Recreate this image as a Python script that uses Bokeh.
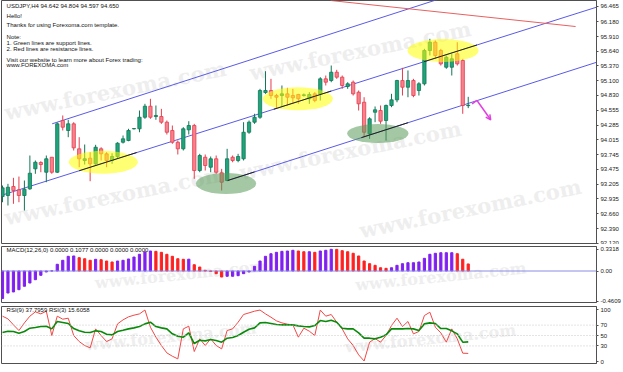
from bokeh.plotting import figure
from bokeh.layouts import column
from bokeh.models import (ColumnDataSource, FixedTicker, PrintfTickFormatter, Range1d,
                          Arrow, OpenHead, Span, Label, LabelSet)
from bokeh.embed import file_html
from bokeh.resources import INLINE
from bokeh.core.properties import value

# ---------------- data (USDJPY H4) ----------------
opens = [92.977, 92.995, 93.160, 93.099, 92.995, 93.118, 93.484, 93.600, 93.422, 93.697,
         93.422, 94.370, 94.187, 94.309, 93.851, 93.637, 93.679, 93.576, 93.851, 93.759,
         93.637, 93.710, 93.972, 94.003, 94.218, 94.218, 94.430, 94.632, 94.443, 94.443,
         94.339, 94.187, 93.972, 93.851, 94.199, 94.278, 93.453, 93.697, 93.514, 93.668,
         93.411, 93.270, 93.697, 93.637, 93.668, 94.155, 94.339, 94.430, 94.883, 94.920,
         94.828, 94.828, 94.859, 94.828, 94.847, 94.828, 94.768, 94.859, 94.859, 95.134,
         95.103, 95.255, 95.164, 94.993, 95.072, 94.889, 94.705, 94.126, 94.522, 94.553,
         94.370, 94.645, 94.749, 95.103, 94.980, 95.103, 94.920, 95.043, 95.653, 95.805,
         95.653, 95.347, 95.347, 95.593, 95.470, 94.642]
highs = [93.178, 93.209, 93.319, 93.343, 93.270, 93.728, 93.637, 93.624, 93.728, 93.697,
         94.333, 94.462, 94.383, 94.339, 94.064, 93.930, 93.789, 93.924, 93.880, 93.789,
         93.770, 93.972, 94.095, 94.218, 94.229, 94.553, 94.676, 94.768, 94.645, 94.584,
         94.370, 94.278, 94.003, 94.247, 94.357, 94.309, 93.759, 93.747, 93.710, 93.728,
         93.484, 93.851, 93.728, 93.759, 94.339, 94.370, 94.493, 94.951, 95.274, 95.134,
         94.859, 95.012, 94.969, 94.951, 94.859, 94.865, 94.889, 94.889, 95.164, 95.195,
         95.378, 95.299, 95.195, 95.072, 95.103, 94.920, 94.797, 94.430, 94.627, 94.645,
         94.663, 94.859, 95.116, 95.336, 95.287, 95.134, 95.072, 95.684, 95.868, 95.837,
         95.684, 95.562, 95.593, 95.805, 95.501, 94.804]
lows = [92.872, 92.812, 92.843, 92.872, 92.720, 93.099, 93.393, 93.422, 93.239, 93.393,
        93.407, 94.187, 94.064, 93.820, 93.514, 93.563, 93.257, 93.545, 93.637, 93.514,
        93.576, 93.668, 93.948, 93.990, 94.205, 94.155, 94.401, 94.401, 94.383, 94.309,
        94.113, 93.943, 93.747, 93.820, 94.113, 93.301, 93.422, 93.453, 93.422, 93.393,
        93.087, 93.257, 93.605, 93.605, 93.637, 94.126, 94.309, 94.401, 94.859, 94.768,
        94.584, 94.614, 94.645, 94.676, 94.676, 94.810, 94.676, 94.705, 94.737, 95.012,
        95.072, 95.134, 94.951, 94.951, 94.828, 94.553, 94.064, 94.034, 94.339, 94.309,
        94.003, 94.614, 94.705, 94.828, 94.797, 94.797, 94.828, 95.012, 95.562, 95.501,
        95.378, 95.318, 95.195, 95.378, 94.493, 94.597]
closes = [93.136, 93.147, 93.087, 92.995, 93.110, 93.404, 93.605, 93.563, 93.668, 93.422,
          94.309, 94.247, 94.309, 93.869, 93.668, 93.668, 93.576, 93.880, 93.759, 93.637,
          93.710, 93.954, 94.034, 94.187, 94.223, 94.430, 94.632, 94.430, 94.462, 94.339,
          94.155, 93.972, 93.851, 94.218, 94.278, 93.453, 93.728, 93.545, 93.668, 93.422,
          93.239, 93.668, 93.637, 93.710, 94.155, 94.339, 94.430, 94.920, 94.920, 94.828,
          94.797, 94.859, 94.797, 94.786, 94.768, 94.841, 94.847, 94.737, 95.134, 95.072,
          95.255, 95.164, 95.012, 95.043, 94.859, 94.676, 94.155, 94.401, 94.566, 94.357,
          94.645, 94.749, 95.103, 94.980, 95.103, 94.828, 95.043, 95.653, 95.805, 95.562,
          95.409, 95.530, 95.501, 95.409, 94.645, 94.650]

macd_hist = [-0.422, -0.337, -0.321, -0.286, -0.234, -0.184, -0.133, -0.066, -0.015, 0.002,
             0.103, 0.164, 0.225, 0.230, 0.204, 0.188, 0.164, 0.179, 0.173, 0.153,
             0.138, 0.153, 0.164, 0.184, 0.214, 0.256, 0.291, 0.306, 0.301, 0.286,
             0.256, 0.225, 0.188, 0.179, 0.181, 0.096, 0.061, 0.011, -0.005, -0.041,
             -0.092, -0.081, -0.081, -0.072, -0.041, -0.015, 0.072, 0.153, 0.225, 0.265,
             0.286, 0.301, 0.306, 0.317, 0.306, 0.295, 0.295, 0.286, 0.306, 0.317,
             0.332, 0.331, 0.311, 0.295, 0.271, 0.230, 0.153, 0.112, 0.087, 0.050,
             0.041, 0.050, 0.087, 0.112, 0.127, 0.127, 0.138, 0.194, 0.256, 0.271,
             0.280, 0.280, 0.280, 0.265, 0.180, 0.108]

rsi9 = [55.7, 58.3, 57.7, 54.5, 57.7, 64.1, 65.4, 67.3, 67.9, 62.8,
        76.9, 75.0, 73.1, 63.4, 59.0, 56.4, 55.7, 59.0, 57.7, 52.5,
        51.3, 57.7, 60.2, 62.8, 64.7, 67.3, 72.4, 75.6, 67.3, 64.7,
        62.8, 53.2, 48.7, 46.8, 55.1, 34.6, 41.0, 39.7, 42.3, 40.4,
        37.2, 44.9, 46.1, 50.0, 56.4, 62.2, 64.7, 74.3, 75.0, 73.1,
        71.1, 70.5, 70.5, 70.5, 68.6, 67.3, 66.6, 69.2, 78.8, 76.9,
        79.5, 75.6, 64.1, 62.8, 62.8, 55.1, 44.9, 44.9, 43.6, 46.8,
        51.3, 62.8, 62.8, 62.8, 63.4, 62.8, 59.6, 72.4, 74.3, 73.1,
        63.4, 63.4, 59.0, 53.2, 37.2, 37.8]
rsi3 = [87.2, 82.0, 70.5, 59.6, 74.3, 87.2, 95.5, 91.6, 96.8, 50.0,
        87.2, 81.4, 83.3, 50.0, 38.4, 30.8, 26.3, 62.8, 50.0, 38.4,
        43.6, 72.4, 80.1, 85.9, 89.1, 91.6, 99.0, 66.0, 46.8, 30.8,
        16.6, 10.2, 5.1, 62.8, 67.9, 19.2, 43.6, 30.8, 43.6, 30.8,
        24.3, 59.6, 62.8, 75.6, 90.4, 93.6, 96.8, 99.0, 91.6, 85.2,
        78.2, 74.3, 71.8, 70.5, 46.8, 64.1, 58.3, 50.0, 99.0, 87.2,
        90.4, 75.6, 62.8, 43.6, 30.8, 12.8, 1.0, 37.2, 44.2, 37.2,
        50.0, 69.2, 83.3, 67.3, 76.9, 53.2, 57.7, 88.4, 94.8, 66.0,
        55.1, 37.2, 62.8, 43.6, 16.0, 15.6]

price_ticks = [96.465, 96.180, 95.910, 95.640, 95.370, 95.100, 94.830, 94.555, 94.285,
               94.015, 93.745, 93.475, 93.205, 92.935, 92.660, 92.390, 92.120]
macd_ticks = [0.3318, 0.0, -0.4609]
rsi_ticks = [0, 30, 50, 70, 100]
date_pos = [0, 8, 16, 24, 32, 40, 48, 56, 64, 72, 80]
date_labels = ["14 Jul 2009", "15 Jul 08:00", "16 Jul 16:00", "19 Jul 23:00", "21 Jul 04:00",
               "22 Jul 12:00", "23 Jul 20:00", "27 Jul 00:00", "28 Jul 08:00", "29 Jul 16:00",
               "31 Jul 00:00"]

# channel / trend lines (bar index, price)
upper_line = ([9.07, 85.0], [94.31, 96.77])
middle_line = ([-0.3, 108.5], [92.995, 96.45])
lower_line = ([41.1, 108.5], [93.27, 95.44])
resist_line = ([59.9, 104.6], [96.57, 96.093])
black_segs = [([14.0, 24.5], [93.449, 93.783]), ([49.5, 60.0], [94.576, 94.910]),
              ([76.9, 86.6], [95.447, 95.755]), ([41.1, 46.0], [93.270, 93.428]),
              ([65.5, 74.0], [94.056, 94.330])]
yellow_ell = dict(x=[18.4, 53.9, 80.4], y=[93.605, 94.768, 95.653], w=[12.6, 12.8, 13.0], h=[0.42, 0.42, 0.42])
green_ell = dict(x=[40.8, 68.5], y=[93.215, 94.132], w=[11.0, 11.2], h=[0.385, 0.35])

WATERMARK = "www.forexoma.com"
wm_main = dict(x=[20.6, 65.3, 20.6, 63.5, 85.4], y=[94.92, 95.65, 92.995, 93.82, 92.757])
wm_macd = dict(x=[32.5, 80.0], y=[-0.053, -0.084])
wm_rsi = dict(x=[30.7, 78.1], y=[48.1, 44.3])

FNAME = "Liberation Sans"
FONT = value(FNAME)
n = len(opens)
idx = list(range(n))
up = [c >= o for o, c in zip(opens, closes)]

G_FILL, G_LINE = "#1ea57c", "#137556"
R_FILL, R_LINE = "#f5828c", "#e63c4c"

src = ColumnDataSource(dict(
    x=idx, high=highs, low=lows,
    top=[max(o, c) for o, c in zip(opens, closes)],
    bot=[min(o, c) for o, c in zip(opens, closes)],
    fill=[G_FILL if u else R_FILL for u in up],
    line=[G_LINE if u else R_LINE for u in up]))

XR = Range1d(-0.18, 108.41)


def make_fig(height, ymin, ymax, top, bottom):
    p = figure(width=623, height=height, x_range=XR, y_range=Range1d(ymin, ymax),
               output_backend="svg", toolbar_location=None, title=None,
               min_border_left=1, min_border_right=27, min_border_top=top,
               min_border_bottom=bottom, y_axis_location="right", x_axis_location=None)
    p.grid.visible = False
    p.outline_line_color = "#505050"
    p.outline_line_width = 1
    p.background_fill_color = "white"
    p.border_fill_color = "white"
    ax = p.yaxis[0]
    ax.major_label_text_font = FNAME
    ax.major_label_text_font_size = "6px"
    ax.major_label_text_color = "#202020"
    ax.major_tick_out = 2
    ax.major_tick_in = 0
    ax.minor_tick_out = 0
    ax.minor_tick_in = 0
    ax.major_label_standoff = 2
    ax.axis_line_color = "#505050"
    ax.major_tick_line_color = "#505050"
    return p


def add_watermarks(p, wm, size, angle):
    p.text(x=wm["x"], y=wm["y"], text=[WATERMARK] * len(wm["x"]), angle=angle,
           text_font=value("DejaVu Serif"), text_font_size=size, text_font_style="bold",
           text_color="#eeeeee", text_align="center", text_baseline="middle")


# ---------------- main price panel ----------------
p1 = make_fig(244, 92.097, 96.57, 0, 0)
p1.yaxis[0].ticker = FixedTicker(ticks=price_ticks)
p1.yaxis[0].formatter = PrintfTickFormatter(format="%.3f")
add_watermarks(p1, wm_main, "21px", 0.2)

p1.line(upper_line[0], upper_line[1], line_color="#5a5ae6", line_width=1)
p1.line(middle_line[0], middle_line[1], line_color="#5a5ae6", line_width=1)
p1.line(lower_line[0], lower_line[1], line_color="#5a5ae6", line_width=1)
p1.line(resist_line[0], resist_line[1], line_color="#e86060", line_width=1)

p1.segment(x0="x", y0="high", x1="x", y1="low", line_color="line", line_width=1, source=src)
p1.vbar(x="x", width=0.6, top="top", bottom="bot", fill_color="fill", line_color="line",
        line_width=0.8, source=src)

p1.ellipse(x=yellow_ell["x"], y=yellow_ell["y"], width=yellow_ell["w"], height=yellow_ell["h"],
           fill_color="#ffff00", fill_alpha=0.55, line_color=None)
p1.ellipse(x=green_ell["x"], y=green_ell["y"], width=green_ell["w"], height=green_ell["h"],
           fill_color="#5a9a5a", fill_alpha=0.55, line_color=None)
for xs, ys in black_segs:
    p1.line(xs, ys, line_color="#202020", line_width=1)

# magenta arrow
p1.line([85.7, 86.6], [94.676, 94.737], line_color="#e040e0", line_width=1.5)
p1.add_layout(Arrow(end=OpenHead(size=5, line_color="#e040e0", line_width=1.5),
                    x_start=86.6, y_start=94.737, x_end=89.1, y_end=94.383,
                    line_color="#e040e0", line_width=1.5))

info_lines = ["USDJPY,H4  94.642 94.804 94.597 94.650", "Hello!",
              "Thanks for using Forexoma.com template.", "Note:",
              "1. Green lines are support lines.", "2. Red lines are resistance lines.",
              "Visit our website to learn more about Forex trading:", "www.FOREXOMA.com"]
info_y = [96.478, 96.295, 96.112, 95.897, 95.787, 95.684, 95.488, 95.391]
p1.text(x=[0.75] * len(info_lines), y=info_y, text=info_lines, text_font=FONT,
        text_font_size="6px", text_color="#101010", text_baseline="middle", text_align="left")

p1.add_layout(Label(x=108.55, y=closes[-1], text="94.650", text_font=FNAME,
                    text_font_size="6px", text_color="white", background_fill_color="black",
                    text_baseline="middle", text_align="left"))

# ---------------- MACD panel ----------------
p2 = make_fig(60, -0.482, 0.375, 2, 2)
p2.yaxis[0].ticker = FixedTicker(ticks=macd_ticks)
p2.yaxis[0].major_label_overrides = {0.3318: "0.3318", 0.0: "0.00", -0.4609: "-0.4609"}
add_watermarks(p2, wm_macd, "16px", 0.1)
macd_col = ["#8020f0" if (i == 0 or macd_hist[i] >= macd_hist[i - 1]) else "#ff2020"
            for i in range(n)]
p2.add_layout(Span(location=0, dimension="width", line_color="#8c8ce6", line_width=1))
p2.vbar(x=idx, width=0.4, top=macd_hist, bottom=0, fill_color=macd_col, line_color=macd_col)
p2.text(x=[0.75], y=[0.36], text=["MACD(12,26,0) 0.0000 0.1077 0.0000 0.0000 0.0000"],
        text_font=FONT, text_font_size="6px", text_color="#101010", text_baseline="top")

# ---------------- RSI panel ----------------
p3 = make_fig(68, -3.8, 105.8, 2, 9)
p3.yaxis[0].ticker = FixedTicker(ticks=rsi_ticks)
add_watermarks(p3, wm_rsi, "16px", 0.1)
for lv in [30, 50, 70]:
    p3.add_layout(Span(location=lv, dimension="width", line_color="#c8c8c8",
                       line_width=1, line_dash="1 2"))
p3.line(idx, rsi3, line_color="#f04848", line_width=1)
p3.line(idx, rsi9, line_color="#0a8a0a", line_width=1.6)
p3.text(x=[0.75], y=[104.5], text=["RSI(9) 37.7959  RSI(3) 15.6058"], text_font=FONT,
        text_font_size="6px", text_color="#101010", text_baseline="top")
date_src = ColumnDataSource(dict(x=[d + 0.1 for d in date_pos], y=[-12.9] * len(date_pos),
                                 t=date_labels))
p3.add_layout(LabelSet(x="x", y="y", text="t", source=date_src, text_font=FONT,
                       text_font_size="5.8px", text_color="#202020",
                       text_baseline="middle", text_align="left"))

layout = column(p1, p2, p3, spacing=0)
open("out.html", "w").write(file_html(layout, INLINE))
